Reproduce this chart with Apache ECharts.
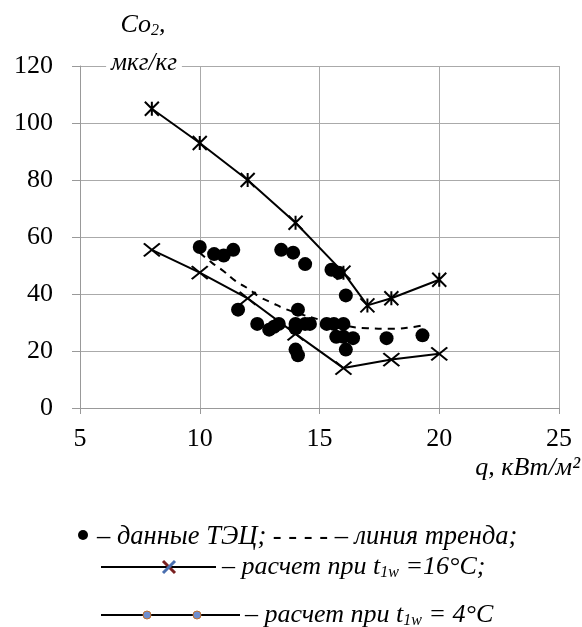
<!DOCTYPE html>
<html><head><meta charset="utf-8">
<script src="https://cdn.jsdelivr.net/npm/echarts@6/dist/echarts.min.js"></script>
<style>html,body{margin:0;padding:0;background:#fff}#c{width:582px;height:627px}</style>
</head><body><div id="c"></div>
<script>
const xTicks = [5, 10, 15, 20, 25];
const yTicks = [0, 20, 40, 60, 80, 100, 120];
const calc16 = [[8,105],[10,93],[12,80],[14,65],[16,47.5],[17,36],[18,38.5],[20,45]];
const calc4 = [[8,55.5],[10,47.5],[12,38.5],[14,26],[16,14],[18,17],[20,19]];
const trend = [[10,54.5],[10.5,51],[11,48],[11.5,44.5],[12,42],[12.5,39],[13,37],[13.5,35],[14,33.5],[15,31],[16,29],[17,28],[18,27.8],[19,28.5],[19.3,29]];
const tecData = [[10.0,56.5],[10.6,54],[11.0,53.5],[11.4,55.5],[11.6,34.5],[12.4,29.5],[12.9,27.5],[13.1,28.5],[13.3,29.5],[13.4,55.5],[13.9,54.5],[14.0,29.5],[14.0,28],[14.1,34.5],[14.0,20.5],[14.1,18.5],[14.4,50.5],[14.4,29.5],[14.6,29.5],[15.3,29.5],[15.5,48.5],[15.6,29.5],[15.7,25],[15.8,47.5],[16.0,29.5],[16.0,25],[16.1,39.5],[16.1,20.5],[16.4,24.5],[17.8,24.5],[19.3,25.5]];

const starSym = 'path://M0,0L10,10M10,0L0,10M5,0L5,10';
const xSym = 'path://M0,0L12,10M12,0L0,10';
const F = (sz) => 'italic ' + sz + 'px "Liberation Serif"';
const richA = {a:{font:F(26), fill:'#000'}, s:{font:F(16), fill:'#000', padding:[12,0,0,0]}};
const tickRich = {t:{font:'26px "Liberation Serif"', color:'#000', fontFamily:'Liberation Serif', fontSize:26}};

const chart = echarts.init(document.getElementById('c'));
chart.setOption({
  animation:false,
  backgroundColor:'#fff',
  textStyle:{fontFamily:'Liberation Serif'},
  grid:{left:80, right:23, top:66, bottom:219},
  xAxis:{type:'value', min:xTicks[0], max:xTicks[xTicks.length-1], interval:5,
    axisLine:{show:true, onZero:false, lineStyle:{color:'#999', width:1}},
    axisTick:{show:true, length:6, lineStyle:{color:'#999'}},
    splitLine:{show:true, lineStyle:{color:'#aaa', width:1}},
    axisLabel:{color:'#000', fontFamily:'Liberation Serif', fontSize:26, margin:18,
      formatter:(v) => '{t|' + v + '}', rich:tickRich}},
  yAxis:{type:'value', min:yTicks[0], max:yTicks[yTicks.length-1], interval:20,
    axisLine:{show:true, lineStyle:{color:'#999', width:1}},
    axisTick:{show:true, length:8, lineStyle:{color:'#999'}},
    splitLine:{show:true, lineStyle:{color:'#aaa', width:1}},
    axisLabel:{color:'#000', fontFamily:'Liberation Serif', fontSize:26, margin:27,
      formatter:(v) => '{t|' + v + '}', rich:tickRich}},
  series:[
    {type:'line', data:trend, smooth:true, showSymbol:false, symbol:'none',
      lineStyle:{color:'#000', width:2, type:[7,6]}, z:2},
    {type:'line', data:calc16, symbol:starSym, symbolSize:14,
      itemStyle:{color:'#000', borderColor:'#000', borderWidth:2},
      lineStyle:{color:'#000', width:2}, z:3},
    {type:'line', data:calc4, symbol:xSym, symbolSize:[16,13],
      itemStyle:{color:'#000', borderColor:'#000', borderWidth:2},
      lineStyle:{color:'#000', width:2}, z:3},
    {type:'scatter', data:tecData, symbol:'circle', symbolSize:14,
      itemStyle:{color:'#000', opacity:1}, z:4}
  ],
  graphic:[
    {type:'text', x:143, y:25, style:{text:'{a|Co}{s|2}{a|,}', rich:richA, align:'center', verticalAlign:'middle'}},
    {type:'text', x:144, y:63, style:{text:'мкг/кг', font:F(25), fill:'#000', align:'center', verticalAlign:'middle', backgroundColor:'#fff', padding:[0,5,0,5]}, z:10},
    {type:'text', x:580, y:468, style:{text:'q, кВт/м²', font:F(26), fill:'#000', align:'right', verticalAlign:'middle'}},
    {type:'circle', shape:{cx:83, cy:535, r:5}, style:{fill:'#000'}},
    {type:'text', x:97, y:537, style:{text:'– данные ТЭЦ; - - - - – линия тренда;', font:F(26.5), fill:'#000', verticalAlign:'middle'}},
    {type:'line', shape:{x1:101, y1:567, x2:216, y2:567}, style:{stroke:'#000', lineWidth:2}},
    {type:'polyline', shape:{points:[[163,561],[175,573]]}, style:{stroke:'#7a2020', lineWidth:3}},
    {type:'polyline', shape:{points:[[175,561],[163,573]]}, style:{stroke:'#4a6fb0', lineWidth:3}},
    {type:'text', x:222, y:567, style:{text:'{a|– расчет при t}{s|1w}{a| =16°C;}', rich:richA, verticalAlign:'middle'}},
    {type:'line', shape:{x1:101, y1:615, x2:240, y2:615}, style:{stroke:'#000', lineWidth:2}},
    {type:'circle', shape:{cx:147, cy:615, r:4}, style:{fill:'#6f8fd0', stroke:'#c07030', lineWidth:1}},
    {type:'circle', shape:{cx:197, cy:615, r:4}, style:{fill:'#6f8fd0', stroke:'#c07030', lineWidth:1}},
    {type:'text', x:245, y:615, style:{text:'{a|– расчет при t}{s|1w}{a| = 4°C}', rich:richA, verticalAlign:'middle'}}
  ]
});
</script></body></html>
